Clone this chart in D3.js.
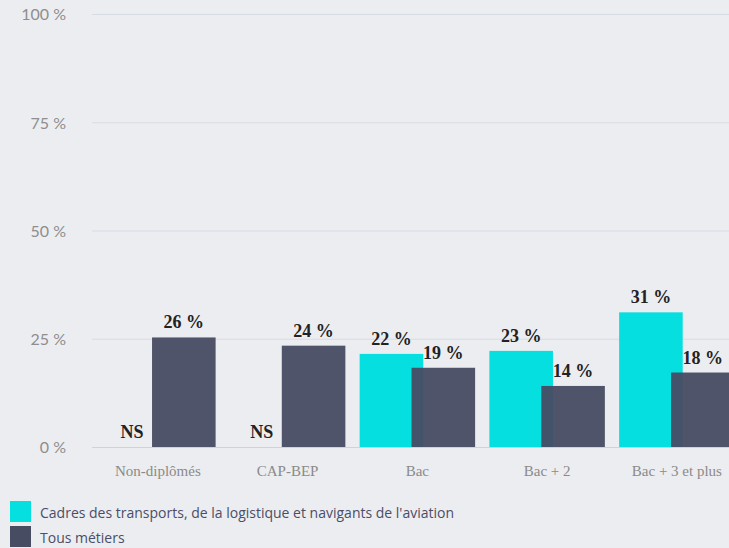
<!DOCTYPE html>
<html>
<head>
<meta charset="utf-8">
<script src="https://cdn.jsdelivr.net/npm/d3@7"></script>
<style>
  html, body { margin: 0; padding: 0; background: #ecedf0; }
  svg { display: block; }
</style>
</head>
<body>
<svg id="drawing_region"></svg>
<script>
// data
const categories = ["Non-diplômés", "CAP-BEP", "Bac", "Bac + 2", "Bac + 3 et plus"];
const seriesNames = ["Cadres des transports, de la logistique et navigants de l'aviation", "Tous métiers"];
const cadresValues = [null, null, 21.5, 22.2, 31.1];
const tousValues = [25.3, 23.4, 18.3, 14.1, 17.2];
const cadresLabels = ["NS", "NS", "22 %", "23 %", "31 %"];
const tousLabels = ["26 %", "24 %", "19 %", "14 %", "18 %"];
const yTicks = [0, 25, 50, 75, 100];

const colors = ["#06dfe0", "#474c63"];

const width = 729, height = 548;

const svg = d3.select('#drawing_region')
    .attr('width', width)
    .attr('height', height);

const xscale = d3.scaleBand()
    .domain(categories)
    .range([93, 93 + 5 * 129.75])
    .padding(0);

const yscale = d3.scaleLinear()
    .domain([0, 100])
    .range([447, 14]);

const step = xscale.step();
const barW = step * 0.49;
const off = step * 0.2;

// grid + y labels
const yaxis = d3.axisLeft(yscale)
    .tickValues(yTicks)
    .tickSize(-(width - 92 + 20))
    .tickPadding(26)
    .tickFormat(d => d + " %");

const ygroup = svg.append('g')
    .attr('transform', 'translate(92, 0)')
    .call(yaxis);
ygroup.select('.domain').remove();
ygroup.selectAll('.tick line')
    .attr('stroke', d => d === 0 ? '#c9d3e6' : '#d6dce3')
    .attr('stroke-width', 1.2);
ygroup.selectAll('.tick text')
    .attr('fill', '#8e8e8e')
    .attr('font-family', 'Lato, sans-serif')
    .attr('font-size', '16px')
    .attr('dy', '0.36em');

const rows = categories.map((c, i) => ({
    cat: c, cad: cadresValues[i], tous: tousValues[i],
    cadL: cadresLabels[i], tousL: tousLabels[i]
}));

// cyan bars
svg.append('g').selectAll('rect')
    .data(rows.filter(d => d.cad !== null))
    .join('rect')
    .attr('x', d => xscale(d.cat) + step / 2 - off - barW / 2)
    .attr('y', d => yscale(d.cad))
    .attr('width', barW)
    .attr('height', d => yscale(0) - yscale(d.cad))
    .attr('fill', colors[0]);

// dark bars, drawn on top with slight transparency
svg.append('g').selectAll('rect')
    .data(rows)
    .join('rect')
    .attr('x', d => xscale(d.cat) + step / 2 + off - barW / 2)
    .attr('y', d => yscale(d.tous))
    .attr('width', barW)
    .attr('height', d => yscale(0) - yscale(d.tous))
    .attr('fill', colors[1])
    .attr('fill-opacity', 0.95);

// value labels
const lab = svg.append('g')
    .attr('font-family', '"Liberation Serif", "Times New Roman", serif')
    .attr('font-weight', 'bold')
    .attr('font-size', '18px')
    .attr('fill', '#222')
    .attr('text-anchor', 'middle');

lab.selectAll('text.cad')
    .data(rows)
    .join('text')
    .attr('class', 'cad')
    .attr('x', d => xscale(d.cat) + step / 2 - off)
    .attr('y', d => yscale(d.cad === null ? 0 : d.cad) - 9)
    .text(d => d.cadL);

lab.selectAll('text.tous')
    .data(rows)
    .join('text')
    .attr('class', 'tous')
    .attr('x', d => xscale(d.cat) + step / 2 + off)
    .attr('y', d => yscale(d.tous) - 9)
    .text(d => d.tousL);

// category labels
svg.append('g').selectAll('text')
    .data(categories)
    .join('text')
    .attr('x', d => xscale(d) + step / 2)
    .attr('y', 476)
    .attr('text-anchor', 'middle')
    .attr('font-family', '"Liberation Serif", "Times New Roman", serif')
    .attr('font-size', '15px')
    .attr('fill', '#8a8a8a')
    .text(d => d);

// legend
const legend = svg.append('g')
    .selectAll('g')
    .data(seriesNames)
    .join('g')
    .attr('transform', (d, i) => `translate(10, ${501 + i * 25})`);

legend.append('rect')
    .attr('width', 21)
    .attr('height', 21)
    .attr('fill', (d, i) => colors[i]);

legend.append('text')
    .attr('x', 30)
    .attr('y', 17)
    .attr('font-family', '"Open Sans", sans-serif')
    .attr('font-size', '14px')
    .attr('fill', '#4a4e68')
    .text(d => d);
</script>
</body>
</html>
